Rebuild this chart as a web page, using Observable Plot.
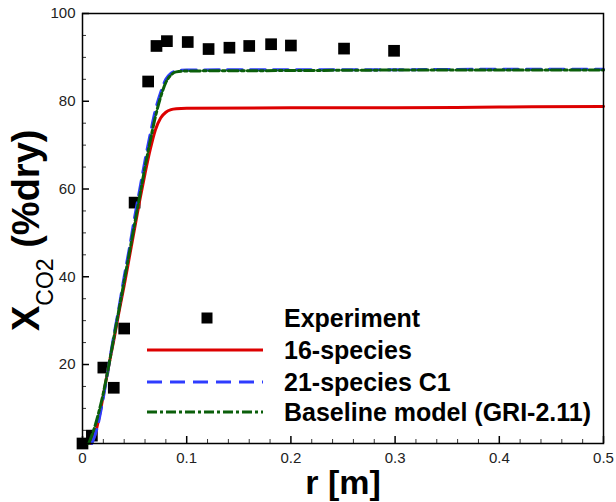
<!DOCTYPE html>
<html><head><meta charset="utf-8">
<script src="https://cdn.jsdelivr.net/npm/d3@7"></script>
<script src="https://cdn.jsdelivr.net/npm/@observablehq/plot@0.6"></script>
<style>body{margin:0;background:#fff} #chart{width:616px;height:502px}</style>
</head><body><div id="chart"></div>
<script>
// Experiment data
const expR = [0, 0.009, 0.02, 0.03, 0.04, 0.05, 0.063, 0.071, 0.081, 0.101, 0.121, 0.141, 0.16, 0.181, 0.2, 0.251, 0.299];
const expX = [2.0, 3.8, 19.3, 14.7, 28.2, 56.9, 84.5, 92.6, 93.7, 93.5, 91.9, 92.2, 92.6, 93.0, 92.7, 92.0, 91.5];
// 16-species
const r16 = [0.008,0.012,0.016,0.02,0.025,0.03,0.035,0.04,0.045,0.05,0.055,0.06,0.065,0.07,0.075,0.08,0.085,0.09,0.1,0.2,0.3,0.4,0.5];
const x16 = [2,4,8,13,19.5,25.5,32,38,44.5,51,57.5,63.5,69,73.5,76.2,77.5,78.1,78.3,78.4,78.5,78.5,78.7,78.8];
// 21-species C1
const r21 = [0.009,0.014,0.02,0.025,0.03,0.035,0.04,0.045,0.05,0.055,0.06,0.065,0.07,0.075,0.08,0.085,0.09,0.1,0.2,0.3,0.4,0.5];
const x21 = [2,5.5,12.5,19.5,26.5,33,40,46.5,53.5,60,66.5,72.5,78,82,85,86.4,86.9,87.1,87.2,87.2,87.3,87.3];
// Baseline model (GRI-2.11)
const rGRI = [0.006,0.012,0.02,0.025,0.03,0.035,0.04,0.045,0.05,0.055,0.06,0.065,0.07,0.075,0.08,0.085,0.09,0.1,0.2,0.3,0.4,0.5];
const xGRI = [2,6,13.5,19.5,26,32.5,39,45.5,52,58.5,65,71,76.5,81,84.3,86,86.7,86.9,87,87.1,87.1,87.1];

const xTicks = [0, 0.1, 0.2, 0.3, 0.4, 0.5];
const xTickLabels = ["0", "0.1", "0.2", "0.3", "0.4", "0.5"];
const yTicks = [20, 40, 60, 80, 100];
const seriesNames = ["Experiment", "16-species", "21-species C1", "Baseline model (GRI-2.11)"];
const xTitle = "r [m]";
const yTitleMain = "X", yTitleSub = "CO2", yTitleRest = " (%dry)";

const W = 616, H = 502, mL = 82, mR = 13, mT = 13, mB = 59;
const innerW = W - mL - mR, innerH = H - mT - mB;

const toRows = (xs, ys) => xs.map((x, i) => ({x, y: ys[i]}));
const expData = toRows(expR, expX);
const d16 = toRows(r16, x16), d21 = toRows(r21, x21), dGRI = toRows(rGRI, xGRI);

const xMinor = d3.range(1, 25).map(i => i * 0.02).filter((v, i) => (i + 1) % 5 !== 0);
const yMinor = d3.range(1, 20).map(i => i * 5).filter(v => v % 20 !== 0);

const colors = {red: "#dd0000", blue: "#2e3cff", green: "#0b5f0b"};
const FONT = "'Liberation Sans', Arial, sans-serif";

const chart = Plot.plot({
  width: W, height: H,
  marginLeft: mL, marginRight: mR, marginTop: mT, marginBottom: mB,
  style: {fontFamily: FONT, fontSize: "15px", color: "#222", background: "#fff"},
  x: {domain: [0, 0.5]},
  y: {domain: [2, 100]},
  marks: [
    Plot.dot(expData, {x: "x", y: "y", symbol: "square", r: 6.6, fill: "#000", stroke: "none"}),
    Plot.line(d16, {x: "x", y: "y", curve: "monotone-x", stroke: colors.red, strokeWidth: 3}),
    Plot.line(d21, {x: "x", y: "y", curve: "monotone-x", stroke: colors.blue, strokeWidth: 3, strokeDasharray: "15,8"}),
    Plot.line(dGRI, {x: "x", y: "y", curve: "monotone-x", stroke: colors.green, strokeWidth: 3, strokeDasharray: "10,3,3,3"}),
    Plot.tickX(xTicks, {x: d => d, insetTop: innerH - 7, stroke: "#000", strokeWidth: 1.5}),
    Plot.tickX(xMinor, {x: d => d, insetTop: innerH - 4, stroke: "#000", strokeWidth: 0.8}),
    Plot.tickY(yTicks, {y: d => d, insetRight: innerW - 7, stroke: "#000", strokeWidth: 1.5}),
    Plot.tickY(yMinor, {y: d => d, insetRight: innerW - 4, stroke: "#000", strokeWidth: 0.8}),
    Plot.frame({stroke: "#000", strokeWidth: 1.5}),
    Plot.axisX({ticks: xTicks, tickSize: 0, tickPadding: 9, tickFormat: d => xTickLabels[xTicks.indexOf(d)], label: null}),
    Plot.axisY({ticks: yTicks, tickSize: 0, tickPadding: 7, label: null})
  ]
});
document.getElementById("chart").appendChild(chart);

const svg = d3.select(chart);
// x title
svg.append("text").attr("x", 343).attr("y", 494).attr("text-anchor", "middle")
  .attr("font-family", FONT).attr("font-weight", "bold")
  .attr("font-size", 34).attr("fill", "#000").text(xTitle);
// y title
const yt = svg.append("text").attr("transform", "translate(39,331) rotate(-90)")
  .attr("text-anchor", "start")
  .attr("font-family", FONT).attr("fill", "#000");
yt.append("tspan").attr("font-weight", "bold").attr("font-size", 38).text(yTitleMain);
yt.append("tspan").attr("font-size", 23).attr("dy", 14).text(yTitleSub);
yt.append("tspan").attr("font-weight", "bold").attr("font-size", 38).attr("dy", -14).text(yTitleRest);

// legend
const lg = svg.append("g").attr("font-family", FONT).attr("text-anchor", "start")
  .attr("font-weight", "bold").attr("font-size", 25).attr("fill", "#000");
const rowsY = [318, 350, 382, 412];
lg.append("rect").attr("x", 207 - 5.5).attr("y", rowsY[0] - 5.5).attr("width", 11).attr("height", 11).attr("fill", "#000");
const lineStyles = [null, {c: colors.red, d: null}, {c: colors.blue, d: "15,8"}, {c: colors.green, d: "10,3,3,3"}];
lineStyles.forEach((s, i) => {
  if (!s) return;
  lg.append("line").attr("x1", 147).attr("x2", 263).attr("y1", rowsY[i]).attr("y2", rowsY[i])
    .attr("stroke", s.c).attr("stroke-width", 3).attr("stroke-dasharray", s.d);
});
seriesNames.forEach((n, i) => {
  lg.append("text").attr("x", 284).attr("y", rowsY[i] + 9).text(n);
});
</script>
</body></html>
